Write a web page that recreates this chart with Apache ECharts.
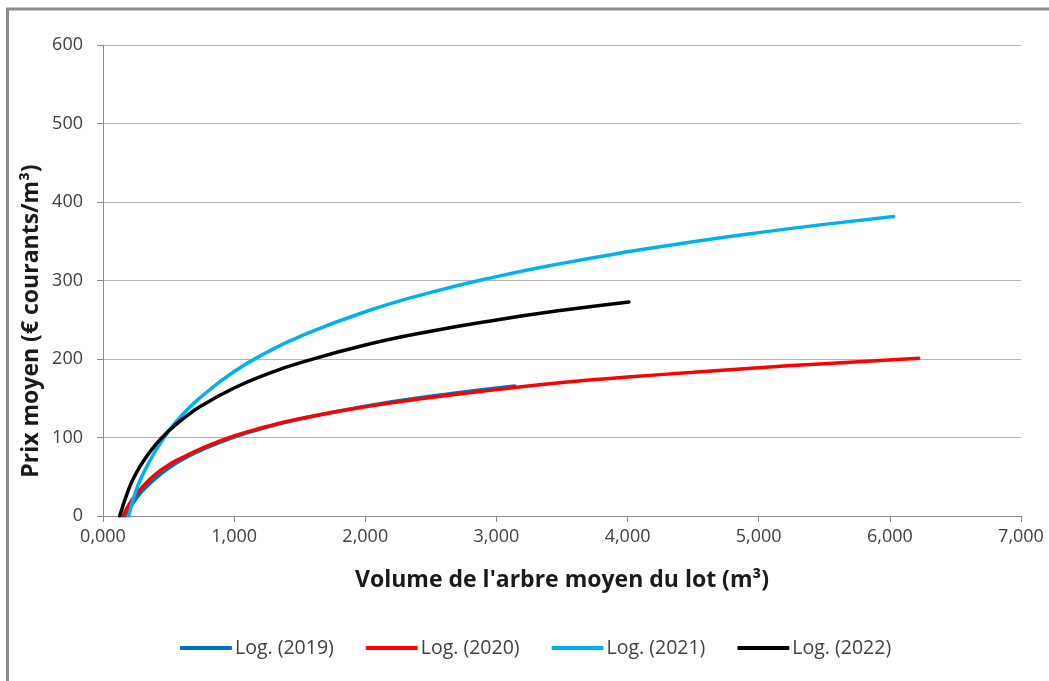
<!DOCTYPE html>
<html>
<head>
<meta charset="utf-8">
<script src="https://cdn.jsdelivr.net/npm/echarts@6/dist/echarts.min.js"></script>
<style>
  html, body { margin: 0; padding: 0; background: #ffffff; }
  #chart { width: 1049px; height: 681px; }
</style>
</head>
<body>
<div id="chart"></div>
<script>
// Logarithmic trend of average price against average tree volume, per sale year
const seriesNames = ['Log. (2019)', 'Log. (2020)', 'Log. (2021)', 'Log. (2022)'];

const vol2019 = [0.171, 0.2, 0.25, 0.3, 0.4, 0.5, 0.6, 0.75, 1.0, 1.25, 1.5, 2.0, 2.5, 3.14];
const prix2019 = [0, 9, 21.5, 32, 48, 61, 71.4, 84, 100.5, 113.2, 123.6, 140, 152.7, 165.7];

const vol2020 = [0.152, 0.2, 0.25, 0.3, 0.4, 0.5, 0.6, 0.75, 1.0, 1.25, 1.5, 2.0, 2.5, 3.0, 3.5, 4.0, 4.5, 5.0, 5.5, 6.22];
const prix2020 = [0, 15, 27, 37, 53, 65, 74, 86, 102, 114, 124, 139, 151, 161, 170, 177, 183, 189, 194, 201];

const vol2021 = [0.195, 0.25, 0.3, 0.4, 0.5, 0.6, 0.75, 1.0, 1.25, 1.5, 2.0, 2.5, 3.0, 3.5, 4.0, 4.5, 5.0, 5.5, 6.03];
const prix2021 = [0, 31.5, 51.6, 83, 108, 128, 152, 184, 208.5, 228.6, 260.2, 284.8, 304.9, 321.8, 336.5, 349.4, 361, 371.5, 381.6];

const vol2022 = [0.127, 0.2, 0.25, 0.3, 0.4, 0.5, 0.6, 0.75, 1.0, 1.25, 1.5, 2.0, 2.5, 3.0, 3.5, 4.01];
const prix2022 = [0, 35.9, 53.5, 67.9, 90.6, 108.2, 122.6, 140.3, 163, 180.6, 195, 217.8, 235.4, 249.8, 262, 272.7];

const xTitle = "Volume de l'arbre moyen du lot (m³)";
const yTitle = 'Prix moyen (€ courants/m³)';

const colors = ['#0070C0', '#FF0000', '#00B0F0', '#000000'];
const volumes = [vol2019, vol2020, vol2021, vol2022];
const prices = [prix2019, prix2020, prix2021, prix2022];

const FONT = '"Open Sans", "Noto Sans", sans-serif';

function pairs(xs, ys) {
  return xs.map((x, i) => [x, ys[i]]);
}

const chart = echarts.init(document.getElementById('chart'), null, { renderer: 'canvas' });

chart.setOption({
  animation: false,
  backgroundColor: '#ffffff',
  grid: { left: 103, right: 28, top: 45, bottom: 165, containLabel: false },
  xAxis: {
    type: 'value',
    min: 0, max: 7, interval: 1,
    axisLine: { show: true, lineStyle: { color: '#8c8c8c', width: 1 } },
    axisTick: { show: true, inside: false, length: 6, lineStyle: { color: '#8c8c8c' } },
    splitLine: { show: false },
    axisLabel: {
      margin: 12,
      color: '#404040',
      fontFamily: FONT,
      fontSize: 18,
      formatter: v => v.toFixed(3).replace('.', ',')
    }
  },
  yAxis: {
    type: 'value',
    min: 0, max: 600, interval: 100,
    axisLine: { show: true, lineStyle: { color: '#8c8c8c', width: 1 } },
    axisTick: { show: true, inside: false, length: 6, lineStyle: { color: '#8c8c8c' } },
    splitLine: { show: true, lineStyle: { color: '#b4b4b4', width: 1 } },
    axisLabel: {
      margin: 20,
      color: '#404040',
      fontFamily: FONT,
      fontSize: 18
    }
  },
  legend: {
    bottom: 18,
    left: 175,
    itemWidth: 52,
    itemHeight: 4,
    itemGap: 32,
    icon: 'roundRect',
    textStyle: { fontFamily: FONT, fontSize: 19.5, color: '#404040', padding: [0, 0, 0, -2] },
    data: seriesNames
  },
  graphic: [
    {
      type: 'rect',
      silent: true,
      shape: { x: 7.5, y: 9, width: 1200, height: 900 },
      style: { fill: null, stroke: '#8c8c8c', lineWidth: 3 }
    },
    {
      type: 'text',
      x: 562,
      y: 580,
      style: { text: xTitle, fontFamily: FONT, fontSize: 23, fontWeight: 'bold', fill: '#1a1a1a', textAlign: 'center', textVerticalAlign: 'middle' }
    },
    {
      type: 'text',
      x: 31,
      y: 321,
      rotation: Math.PI / 2,
      style: { text: yTitle, fontFamily: FONT, fontSize: 23, fontWeight: 'bold', fill: '#1a1a1a', textAlign: 'center', textVerticalAlign: 'middle' }
    }
  ],
  series: seriesNames.map((name, i) => ({
    name,
    type: 'line',
    data: pairs(volumes[i], prices[i]),
    smooth: 0.5,
    showSymbol: false,
    symbol: 'none',
    lineStyle: { color: colors[i], width: 3.5, cap: 'round' },
    itemStyle: { color: colors[i] },
    z: 2 + i
  }))
});
</script>
</body>
</html>
